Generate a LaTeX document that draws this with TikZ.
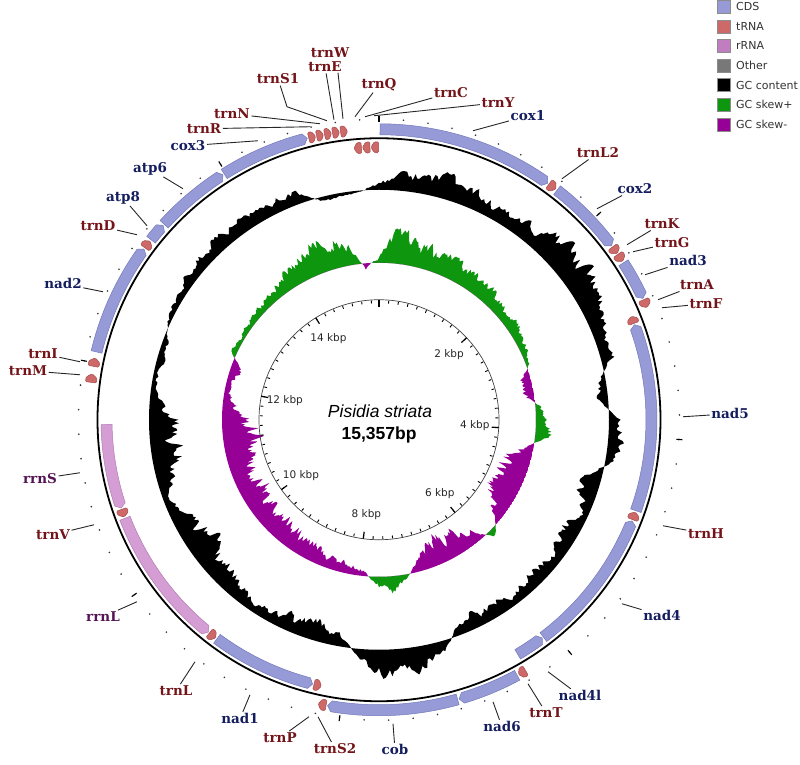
\documentclass[tikz,border=0pt]{standalone}
\usepackage{fontspec}
\setmainfont{DejaVu Sans}
\newfontfamily\genefont{DejaVu Serif}
\newfontfamily\titlefont{Liberation Sans}
\usetikzlibrary{arrows.meta, positioning, calc}
\definecolor{ccds}{RGB}{150,155,215}
\definecolor{ccdsedge}{RGB}{115,120,185}
\definecolor{ctrna}{RGB}{205,105,105}
\definecolor{ctrnaedge}{RGB}{165,75,75}
\definecolor{crrna}{RGB}{212,158,212}
\definecolor{crrnaedge}{RGB}{178,122,178}
\definecolor{crrnaleg}{RGB}{192,125,192}
\definecolor{cother}{RGB}{120,120,120}
\definecolor{cskewp}{RGB}{15,150,15}
\definecolor{cskewn}{RGB}{150,0,150}
\definecolor{ctrnlab}{RGB}{115,20,25}
\definecolor{ccdslab}{RGB}{20,30,95}
\definecolor{crrnlab}{RGB}{85,20,85}
\tikzset{
  every picture/.style={x=1pt, y=1pt},
  imgframe/.style={shift={(-379,418)}, yscale=-1},
  cdsbox/.style={fill=ccds, draw=ccdsedge, line width=0.5pt},
  trnabox/.style={fill=ctrna, draw=ctrnaedge, line width=0.5pt, rounded corners=1.2pt},
  rrnabox/.style={fill=crrna, draw=crrnaedge, line width=0.5pt},
  genelab/.style={font=\genefont\bfseries\fontsize{13.5}{15}\selectfont, inner sep=1.5pt},
  cdslab/.style={genelab, text=ccdslab},
  trnlab/.style={genelab, text=ctrnlab},
  rrnlab/.style={genelab, text=crrnlab},
  lead/.style={draw=black!85, line width=0.9pt},
  kbplab/.style={font=\fontsize{10.5}{12}\selectfont, text=black!85},
  swatch/.style={draw=black!45, line width=0.5pt, minimum size=13pt, inner sep=0pt},
  legtext/.style={font=\fontsize{11}{13}\selectfont, text=black!80, anchor=west, inner sep=0pt},
}
% GC content and GC skew, every 5 degrees from 5 to 360
\def\gcdat{14,18,20,18,15,12,14,18,22,25,24,20,14,10,10,-8,-10,10,13,8,-15,-16,-6,-16,-14,-10,-12,-10,-10,-12,-14,-6,14,22,25,20,8,-12,-16,-20,-15,-10,-8,-14,-18,-22,-25,-22,-15,-4,-18,-25,-29,-24,-8,-4,-6,-5,3,6,8,10,12,12,13,12,13,10,-3,-4,-2,6}
\def\skdat{28,24,22,20,20,18,15,14,12,10,11,8,6,2,-10,-12,4,8,14,-6,-25,-28,-22,-25,-20,-6,8,-10,-20,-22,-25,-20,-10,4,14,10,-3,-8,-10,-12,-14,-15,-18,-20,-18,-20,-22,-25,-18,-22,-26,-27,-30,-26,-12,-4,-6,-10,6,3,5,6,8,10,12,16,22,26,28,16,-5,6}
\newcommand{\buildcurve}[5]{%
  \pgfmathsetseed{#5}%
  \gdef\curvepts{}\gdef\curvenz{0}%
  \foreach \vb [count=\ii from 0, remember=\vb as \va (initially #3)] in #2 {%
    \foreach \j in {0,...,9}{%
      \pgfmathsetmacro\curT{5*\ii+0.5*\j}%
      \pgfmathsetmacro\curB{\va+((\vb)-(\va))*\j/10}%
      \pgfmathsetmacro\curN{0.55*\curvenz+0.45*rand}%
      \xdef\curvenz{\curN}%
      \pgfmathsetmacro\curR{#4+(\curB)*(1+0.6*(\curN))+0.6*rand}%
      \pgfmathsetmacro\curA{90-\curT}%
      \xdef\curvepts{\curvepts(\curA:\curR pt)--}%
    }%
  }%
  \global\let#1\curvepts
}
% outer strand, pointing clockwise
\newcommand{\plusfeat}[3]{%
  \pgfmathsetmacro\fa{90-#1}\pgfmathsetmacro\fb{90-#2}%
  \pgfmathsetmacro\fc{\fb+min(0.8,0.45*(#2-#1))}%
  \path[#3] (\fa:285pt) arc[start angle=\fa, end angle=\fc, radius=285pt] -- (\fb:290.5pt)
    -- (\fc:296pt) arc[start angle=\fc, end angle=\fa, radius=296pt] -- cycle;
}
% inner strand, pointing anticlockwise
\newcommand{\minusfeat}[3]{%
  \pgfmathsetmacro\fa{90-#1}\pgfmathsetmacro\fb{90-#2}%
  \pgfmathsetmacro\fc{\fa-min(0.8,0.45*(#2-#1))}%
  \path[#3] (\fb:267pt) arc[start angle=\fb, end angle=\fc, radius=267pt] -- (\fa:272.5pt)
    -- (\fc:278pt) arc[start angle=\fc, end angle=\fb, radius=278pt] -- cycle;
}

\begin{document}
\begin{tikzpicture}
  \begin{scope}[imgframe]
    \useasboundingbox (0,0) rectangle (800,763);
  \end{scope}

  \buildcurve{\gcpts}{\gcdat}{6}{230}{17}
  \buildcurve{\skpts}{\skdat}{6}{157}{29}

  % GC skew
  \begin{scope}
    \clip \skpts cycle;
    \fill[cskewp, even odd rule] (0,0) circle[radius=205pt] (0,0) circle[radius=157pt];
  \end{scope}
  \begin{scope}
    \clip (0,0) circle[radius=157pt];
    \fill[cskewn, even odd rule] (0,0) circle[radius=157pt] \skpts cycle;
  \end{scope}
  % GC content
  \fill[black, even odd rule] \gcpts cycle (0,0) circle[radius=230pt];

  % ruler
  \draw[line width=0.7pt, black!75] (0,0) circle[radius=120pt];
  \foreach \k in {0,...,76}
    \draw[line width=0.9pt] ({90-\k*4.68842}:116.5pt) -- ({90-\k*4.68842}:119.3pt);
  \foreach \k in {0,2,...,14}
    \draw[line width=1.2pt] ({90-\k*23.4421}:113pt) -- ({90-\k*23.4421}:120pt);
  \foreach \k in {2,4,...,14}
    \node[kbplab] (kb\k) at ({90-\k*23.4421}:96pt) {\k\ kbp};
  \node[font=\titlefont\itshape\fontsize{17.5}{20}\selectfont] (species) at (1,8) {Pisidia striata};
  \node[font=\titlefont\bfseries\fontsize{17.5}{20}\selectfont] (gsize) at (0,-15) {15,357bp};

  % backbone and ticks
  \draw[line width=1.8pt] (0,0) circle[radius=281.5pt];
  \foreach \k in {0,...,76}
    \fill[black!80] ({90-\k*4.68842}:300.5pt) circle[radius=0.9pt];
  \foreach \k in {0,2,...,14}
    \draw[line width=1.1pt] ({90-\k*23.4421}:298pt) -- ({90-\k*23.4421}:304pt);

  % genes
  \plusfeat{0.2}{35.5}{cdsbox}
  \plusfeat{35.8}{37.5}{trnabox}
  \plusfeat{37.8}{53.2}{cdsbox}
  \plusfeat{53.5}{55.1}{trnabox}
  \plusfeat{55.3}{57.0}{trnabox}
  \plusfeat{57.3}{65.3}{cdsbox}
  \plusfeat{65.6}{67.3}{trnabox}
  \minusfeat{67.7}{69.3}{trnabox}
  \minusfeat{69.6}{109.5}{cdsbox}
  \minusfeat{109.8}{111.5}{trnabox}
  \minusfeat{111.8}{142.9}{cdsbox}
  \minusfeat{143.2}{149.4}{cdsbox}
  \plusfeat{149.7}{151.3}{trnabox}
  \plusfeat{151.6}{164.0}{cdsbox}
  \plusfeat{164.3}{190.2}{cdsbox}
  \plusfeat{190.5}{192.1}{trnabox}
  \minusfeat{192.2}{193.8}{trnabox}
  \minusfeat{194.1}{216.5}{cdsbox}
  \minusfeat{216.8}{218.5}{trnabox}
  \minusfeat{218.8}{248.8}{rrnabox}
  \minusfeat{249.1}{250.8}{trnabox}
  \minusfeat{251.1}{269.0}{rrnabox}
  \plusfeat{277.4}{279.1}{trnabox}
  \plusfeat{280.6}{282.3}{trnabox}
  \plusfeat{283.5}{306.0}{cdsbox}
  \plusfeat{306.3}{308.0}{trnabox}
  \plusfeat{308.3}{312.0}{cdsbox}
  \plusfeat{312.3}{327.5}{cdsbox}
  \plusfeat{327.8}{345.7}{cdsbox}
  \plusfeat{346.0}{347.4}{trnabox}
  \plusfeat{347.6}{349.0}{trnabox}
  \plusfeat{349.2}{350.6}{trnabox}
  \plusfeat{350.8}{352.2}{trnabox}
  \plusfeat{352.4}{353.8}{trnabox}
  \minusfeat{354.7}{356.3}{trnabox}
  \minusfeat{356.5}{358.1}{trnabox}
  \minusfeat{358.3}{359.9}{trnabox}

  \begin{scope}[imgframe]
    % labels
    \foreach \g/\lx/\ly/\ex/\ey in {trnE/325/65/334/118, trnQ/379/83/355/115, trnC/451/91/365/115,
        trnY/498/101/374/114, trnN/232/112/320/122, trnR/204/127/310/125, trnL2/598/151/562/177,
        trnK/662/222/627/243, trnG/672/241/633/250, trnA/697/283/658/298, trnF/706/302/662/306,
        trnH/706/532/663/524, trnT/546/711/528/682, trnS2/335/747/318/715, trnP/280/736/309/715,
        trnL/176/689/195/660, trnV/53/533/94/523, trnM/28/369/80/373, trnI/43/352/80/360,
        trnD/98/224/137/233} {
      \node[trnlab] (l\g) at (\lx,\ly) {\g};
      \coordinate (p\g) at (\ex,\ey);
      \draw[lead] (l\g) -- (p\g);
    }
    \foreach \g/\lx/\ly/\ex/\ey in {cox1/528/114/473/129, cox2/635/187/597/207, nad3/688/259/645/273,
        nad5/730/412/683/415, nad4/662/614/622/602, nad4l/580/694/548/670, nad6/502/725/493/700,
        cob/395/748/393/722, nad1/240/717/250/693, nad2/63/282/103/290, atp8/123/196/147/224,
        atp6/150/167/183/187, cox3/188/144/258/139} {
      \node[cdslab] (l\g) at (\lx,\ly) {\g};
      \coordinate (p\g) at (\ex,\ey);
      \draw[lead] (l\g) -- (p\g);
    }
    \foreach \g/\lx/\ly/\ex/\ey in {rrnS/40/477/80/471, rrnL/103/615/137/600} {
      \node[rrnlab] (l\g) at (\lx,\ly) {\g};
      \coordinate (p\g) at (\ex,\ey);
      \draw[lead] (l\g) -- (p\g);
    }
    \node[trnlab] (ltrnW) at (330,51) {trnW};
    \coordinate (ktrnW) at (338,71);
    \coordinate (ptrnW) at (343,117);
    \draw[lead] (ktrnW) -- (ptrnW);
    \node[trnlab] (ltrnS1) at (278,77) {trnS1};
    \coordinate (btrnS1) at (287,105);
    \coordinate (ptrnS1) at (327,119);
    \draw[lead] (ltrnS1) -- (btrnS1) -- (ptrnS1);

    % legend
    \foreach \c/\t [count=\i from 0] in {ccds/CDS, ctrna/tRNA, crrnaleg/rRNA, cother/Other,
        black/GC content, cskewp/GC skew+, cskewn/GC skew-} {
      \node[swatch, fill=\c] (sw\i) at (723.5,5+19.6*\i) {};
      \node[legtext] (lg\i) at (736,5+19.6*\i) {\t};
    }
  \end{scope}
\end{tikzpicture}
\end{document}
